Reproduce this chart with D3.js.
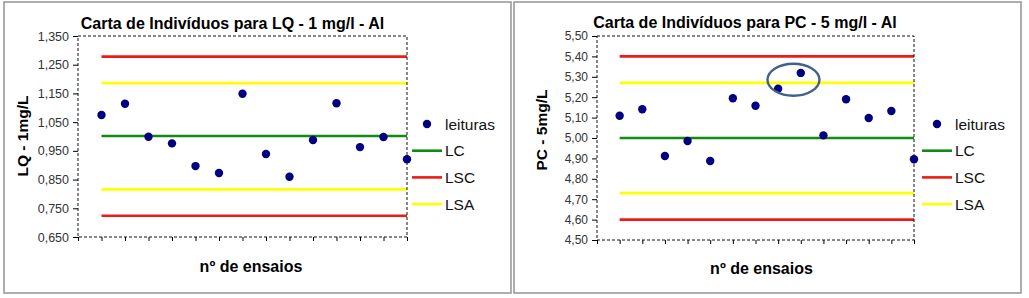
<!DOCTYPE html>
<html>
<head>
<meta charset="utf-8">
<script src="https://cdn.jsdelivr.net/npm/d3@7"></script>
<style>
  body { margin: 0; background: #fff; }
  svg text { font-family: "Liberation Sans", Arial, sans-serif; }
</style>
</head>
<body>
<script>
// Data
let ensaios = d3.range(1, 15);

let leiturasLQ = [1.075, 1.114, 0.999, 0.976, 0.897, 0.873, 1.149, 0.939, 0.860, 0.988, 1.116, 0.963, 0.998, 0.921];
let limitesLQ = { LC: 1.002, LSC: 1.278, LIC: 0.724, LSA: 1.186, LIA: 0.816 };
let ticksLQ = [0.650, 0.750, 0.850, 0.950, 1.050, 1.150, 1.250, 1.350];

let leiturasPC = [5.109, 5.141, 4.912, 4.985, 4.887, 5.195, 5.158, 5.242, 5.319, 5.013, 5.190, 5.098, 5.132, 4.896];
let limitesPC = { LC: 5.00, LSC: 5.40, LIC: 4.60, LSA: 5.27, LIA: 4.73 };
let ticksPC = [4.50, 4.60, 4.70, 4.80, 4.90, 5.00, 5.10, 5.20, 5.30, 5.40, 5.50];

let legendItems = ["leituras", "LC", "LSC", "LSA"];

const W = 1029, H = 298;
const colors = { LC: "#138a13", LSC: "#f01a14", LIC: "#f01a14", LSA: "#ffff00", LIA: "#ffff00" };

let svg = d3.select("body").append("svg")
    .attr("width", W)
    .attr("height", H);

function drawChart(opt) {
    let g = svg.append("g");

    // outer frame
    g.append("rect")
        .attr("x", opt.frame[0]).attr("y", opt.frame[1])
        .attr("width", opt.frame[2] - opt.frame[0])
        .attr("height", opt.frame[3] - opt.frame[1])
        .attr("fill", "#fff")
        .attr("stroke", "#9a9a9a")
        .attr("stroke-width", 1.6);

    let [l, t, r, b] = opt.plot;
    let x = d3.scaleLinear().domain([0, 14]).range([l, r]);
    let y = d3.scaleLinear().domain(opt.domain).range([b, t]);

    // control limits
    ["LSC", "LSA", "LC", "LIA", "LIC"].forEach(k => {
        g.append("line")
            .attr("x1", x(1)).attr("x2", x(14))
            .attr("y1", y(opt.limits[k])).attr("y2", y(opt.limits[k]))
            .attr("stroke", colors[k])
            .attr("stroke-width", 2.6);
    });

    // plot area border (dashed)
    g.append("rect")
        .attr("x", l).attr("y", t)
        .attr("width", r - l).attr("height", b - t)
        .attr("fill", "none")
        .attr("stroke", "#111")
        .attr("stroke-width", 1)
        .attr("stroke-dasharray", "3,2");

    // axes
    let yAxis = d3.axisLeft(y)
        .tickValues(opt.ticks)
        .tickSize(5)
        .tickPadding(4)
        .tickFormat(d => opt.fmt(d).replace(".", ","));
    let ya = g.append("g").attr("transform", `translate(${l},0)`).call(yAxis);
    ya.select(".domain").remove();
    ya.selectAll("text").attr("font-size", opt.tickFont).attr("fill", "#333")
        .style("font-family", "Liberation Sans, Arial, sans-serif");

    let xAxis = d3.axisBottom(x)
        .tickValues(d3.range(0, 15))
        .tickSize(4)
        .tickFormat("");
    let xa = g.append("g").attr("transform", `translate(0,${b})`).call(xAxis);
    xa.select(".domain").remove();

    // readings
    g.selectAll(".pt")
        .data(opt.values)
        .enter()
        .append("circle")
        .attr("class", "pt")
        .attr("cx", (d, i) => x(ensaios[i]))
        .attr("cy", d => y(d))
        .attr("r", 4.2)
        .attr("fill", "#000080");

    // title
    g.append("text")
        .attr("x", opt.titleX).attr("y", opt.titleY)
        .attr("text-anchor", "middle")
        .attr("font-size", 16)
        .attr("font-weight", "bold")
        .text(opt.title);

    // y title
    g.append("text")
        .attr("transform", `translate(${opt.yTitleX},${opt.yTitleY}) rotate(-90)`)
        .attr("text-anchor", "middle")
        .attr("font-size", 15.5)
        .attr("font-weight", "bold")
        .text(opt.yTitle);

    // x title
    g.append("text")
        .attr("x", opt.xTitleX).attr("y", opt.xTitleY)
        .attr("text-anchor", "middle")
        .attr("font-size", 16)
        .attr("font-weight", "bold")
        .text("nº de ensaios");

    // legend
    let lg = g.append("g").attr("transform", `translate(${opt.legendX},124)`);
    legendItems.forEach((k, i) => {
        let yy = i * 26.7;
        if (k === "leituras") {
            lg.append("circle").attr("cx", 15).attr("cy", yy).attr("r", 4.2).attr("fill", "#000080");
        } else {
            lg.append("line").attr("x1", 0).attr("x2", 30)
                .attr("y1", yy).attr("y2", yy)
                .attr("stroke", colors[k]).attr("stroke-width", 2.6);
        }
        lg.append("text")
            .attr("x", 33).attr("y", yy + 5.5)
            .attr("font-size", 15.5)
            .attr("fill", "#111")
            .text(k);
    });

    return { x: x, y: y, g: g };
}

drawChart({
    frame: [4, 2, 511, 293],
    plot: [78, 36, 407, 237],
    domain: [0.650, 1.350],
    ticks: ticksLQ,
    fmt: d3.format(".3f"),
    tickFont: 12.5,
    values: leiturasLQ,
    limits: limitesLQ,
    title: "Carta de Indivíduos para LQ - 1 mg/l - Al",
    titleX: 232.5,
    titleY: 29,
    yTitle: "LQ - 1mg/L",
    yTitleX: 28,
    yTitleY: 136,
    xTitleX: 251,
    xTitleY: 272,
    legendX: 412
});

let c2 = drawChart({
    frame: [514, 2, 1021, 293],
    plot: [597, 36, 914, 240],
    domain: [4.50, 5.50],
    ticks: ticksPC,
    fmt: d3.format(".2f"),
    tickFont: 12,
    values: leiturasPC,
    limits: limitesPC,
    title: "Carta de Indivíduos para PC - 5 mg/l - Al",
    titleX: 745,
    titleY: 28,
    yTitle: "PC - 5mg/L",
    yTitleX: 547,
    yTitleY: 130,
    xTitleX: 761.5,
    xTitleY: 274,
    legendX: 922
});

// highlight around readings 8 and 9
c2.g.append("ellipse")
    .attr("cx", (c2.x(8) + c2.x(9)) / 2 + 4)
    .attr("cy", (c2.y(leiturasPC[7]) + c2.y(leiturasPC[8])) / 2 - 1)
    .attr("rx", 26)
    .attr("ry", 16)
    .attr("fill", "none")
    .attr("stroke", "#40618a")
    .attr("stroke-width", 2.4);
</script>
</body>
</html>
